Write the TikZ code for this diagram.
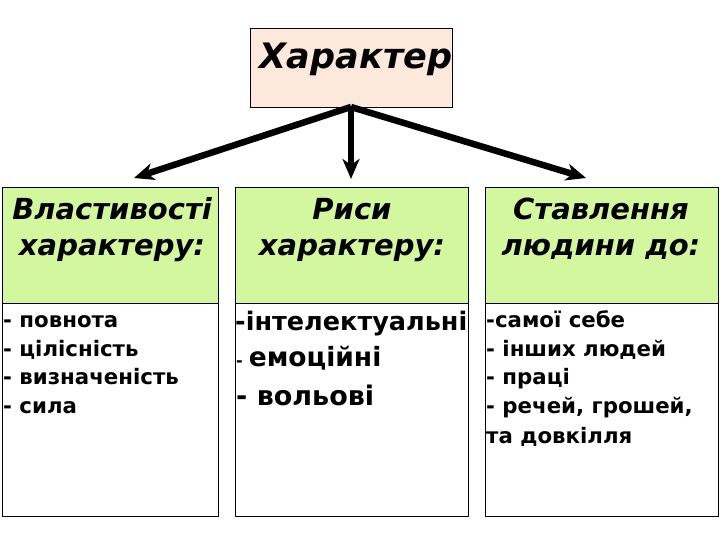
\documentclass[tikz,border=0pt]{standalone}
\usepackage{fontspec}
\setmainfont{DejaVu Sans}
\usetikzlibrary{arrows.meta}
\definecolor{pinkfill}{RGB}{252,232,220}
\definecolor{greenfill}{RGB}{210,247,158}
\tikzset{
  box/.style={draw=black, line width=1.3pt, inner sep=0pt, anchor=north west},
  headtext/.style={font=\bfseries\itshape\fontsize{29}{34}\selectfont, inner sep=0pt, anchor=base},
  itemtext/.style={font=\bfseries\fontsize{21.3}{24}\selectfont, inner sep=0pt, anchor=base west},
  bigarrow/.style={line width=6.5pt, -{Stealth[length=20pt,width=17pt,inset=6pt]}}
}
\begin{document}
\begin{tikzpicture}[x=1pt,y=-1pt]
\useasboundingbox (0,0) rectangle (720,540);
% title
\node[box, fill=pinkfill, minimum width=202pt, minimum height=79pt] (title) at (250,28) {};
\node[font=\bfseries\itshape\fontsize{35}{40}\selectfont, inner sep=0pt, anchor=base] (ttext) at (356,69) {Характер};
% header boxes
\node[box, fill=greenfill, minimum width=216pt, minimum height=116pt] (h1) at (2,187) {};
\node[box, fill=greenfill, minimum width=233pt, minimum height=116pt] (h2) at (235,187) {};
\node[box, fill=greenfill, minimum width=233pt, minimum height=116pt] (h3) at (485,187) {};
% body boxes
\node[box, fill=white, minimum width=216pt, minimum height=213pt] (b1) at (2,303) {};
\node[box, fill=white, minimum width=233pt, minimum height=213pt] (b2) at (235,303) {};
\node[box, fill=white, minimum width=233pt, minimum height=213pt] (b3) at (485,303) {};
% header texts
\node[headtext] (h1a) at (112,220) {Властивості};
\node[headtext] (h1b) at (112,255) {характеру:};
\node[headtext] (h2a) at (352,220) {Риси};
\node[headtext] (h2b) at (352,255) {характеру:};
\node[headtext] (h3a) at (601,220) {Ставлення};
\node[headtext] (h3b) at (601,255) {людини до:};
% left items
\node[itemtext] (l1) at (3,327) {- повнота};
\node[itemtext] (l2) at (3,356) {- цілісність};
\node[itemtext] (l3) at (3,384) {- визначеність};
\node[itemtext] (l4) at (3,413) {- сила};
% middle items
\node[itemtext, font=\bfseries\fontsize{25.5}{28}\selectfont] (m1) at (235,330) {-інтелектуальні};
\node[itemtext, font=\bfseries\fontsize{26.5}{30}\selectfont] (m2) at (236,366) {{\fontsize{16}{18}\selectfont-}\hspace{6pt}емоційні};
\node[itemtext, font=\bfseries\fontsize{27}{30}\selectfont] (m3) at (236,405) {- вольові};
% right items
\node[itemtext] (r1) at (486,327) {-самої себе};
\node[itemtext] (r2) at (486,356) {- інших людей};
\node[itemtext] (r3) at (486,384) {- праці};
\node[itemtext] (r4) at (486,413) {- речей, грошей,};
\node[itemtext] (r5) at (486,443) {та довкілля};
% arrows
\coordinate (src) at (351,107);
\coordinate (t1) at (134,178);
\coordinate (t2) at (351,179);
\coordinate (t3) at (586,178);
\draw[bigarrow] (src) -- (t1);
\draw[bigarrow] (src) -- (t2);
\draw[bigarrow] (src) -- (t3);
\end{tikzpicture}
\end{document}
